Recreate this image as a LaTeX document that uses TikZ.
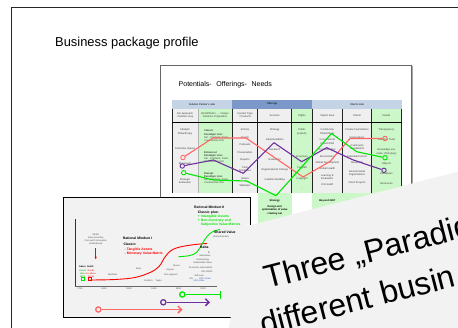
\documentclass[tikz,border=0pt]{standalone}
\usepackage{fontspec}
\setmainfont{Liberation Sans}
\usetikzlibrary{arrows.meta}
\definecolor{salmon}{HTML}{FF6666}
\definecolor{purp}{HTML}{7030A0}
\definecolor{lime}{HTML}{00E600}
\definecolor{pale}{HTML}{CCF7C8}
\definecolor{cellgray}{HTML}{EFEFEF}
\definecolor{bandlt}{HTML}{C5D3E6}
\definecolor{banddk}{HTML}{7B98C8}
\definecolor{slidegray}{HTML}{F2F2F2}
\definecolor{sdgblue}{HTML}{3366CC}
\begin{document}
\begin{tikzpicture}[x=1pt,y=-1pt,
  tiny/.style={font=\fontsize{2.6}{3.1}\selectfont, inner sep=0, align=center, text=black!75},
  tinyb/.style={font=\fontsize{2.6}{3.1}\selectfont\bfseries, inner sep=0, align=left, text=black},
  lab/.style={font=\fontsize{3.4}{4}\selectfont\bfseries, inner sep=0, anchor=west, align=left},
  tl/.style={font=\fontsize{2.3}{2.8}\selectfont, inner sep=0, text=black!70, align=center},
  pathline/.style={line width=1.1pt, line join=round},
  mk/.style={circle, draw, line width=0.9pt, minimum size=4.4pt, inner sep=0},
  bmk/.style={circle, draw, line width=1.3pt, minimum size=5.2pt, inner sep=0},
  sep/.style={black!85, line width=0.9pt}]
\useasboundingbox (0,0) rectangle (458,327);
\clip (0,0) rectangle (458,327);
\fill[white] (0,0) rectangle (458,327);
\draw[black!85, line width=1pt] (11,335) -- (11,7) -- (465,7);
\node[anchor=base west, font=\fontsize{12.9}{15}\selectfont, inner sep=0] (title) at (55,46.5) {Business package profile};

% ---------- slide 1 : table ----------
\draw[black!35, line width=1.6pt] (412.4,66) -- (412.4,250);
\draw[draw=black!60, fill=white, line width=0.8pt] (160,65) rectangle (411.3,260);
\node[anchor=base west, font=\fontsize{7}{8}\selectfont, inner sep=0] (pon) at (178.5,86) {Potentials-\hspace{4.6pt}Offerings-\hspace{4.6pt}Needs};

\fill[bandlt] (172,100) rectangle (232,108.5);
\fill[banddk] (232,100) rectangle (312,108.5);
\fill[bandlt] (312,100) rectangle (402,108.5);
\node[tiny, text=black] (b1) at (202,104.3) {Solution Partner's side};
\node[tiny, text=black] (b2) at (272,104.3) {Offerings};
\node[tiny, text=black] (b3) at (357,104.3) {Client's side};

\fill[cellgray] (172,108.5) rectangle (198,193);
\fill[pale] (198,108.5) rectangle (232,193);
\fill[cellgray] (232,108.5) rectangle (291.7,193);
\fill[pale] (291.7,108.5) rectangle (312,193);
\fill[cellgray] (312,108.5) rectangle (371.5,193);
\fill[pale] (371.5,108.5) rectangle (401.7,193);
% cells below the table
\fill[pale] (257.7,193) rectangle (291.7,240);
\fill[pale] (312,193) rectangle (410,240);

\draw[black!30, line width=0.4pt] (198,108.5) -- (198,193);
\foreach \x in {172.5,232,257.7,291.7,312,342.5,371.5,401.3}
  \draw[sep] (\x,108.5) -- (\x,193);
\draw[black, line width=1pt] (172,122.3) -- (402,122.3);

% sub headers
\node[tiny] (h1) at (185,115.5) {Our Approach\\/ Solution step};
\node[tiny] (h2) at (215,115.5) {World/Shell + ... Unique\\Solutions Proposition};
\node[tiny] (h3) at (245,115.5) {Content Type\\/ Products};
\node[tiny] (h4) at (274.7,115.8) {Services};
\node[tiny] (h5) at (302,115.8) {Rights};
\node[tiny] (h6) at (327.3,115.8) {Impact Area};
\node[tiny] (h7) at (357,115.8) {Clients};
\node[tiny] (h8) at (386.5,115.8) {Needs};

% body texts
\node[tiny] at (185,131.8) {Catalytic\\Philanthropy};
\node[tiny] at (185,149) {Collective Impact};
\node[tiny] at (185,163.3) {Movement};
\node[tiny] at (185,180.8) {Strategic\\Evaluation};

\node[tiny, anchor=west, align=left] at (204,135.7) {\textbf{Classic}\\\textbf{Paradigm Line:}\\Ser., Products, Tools,\\Construction Kits};
\node[tiny, anchor=west, align=left] at (204,157.3) {\textbf{Enhanced}\\\textbf{Paradigm Line:}\\Ser., Products, Tools,\\Construction Kits};
\node[tiny, anchor=west, align=left] at (204,178.2) {\textbf{Disrupt}\\\textbf{Paradigm Line:}\\Ser., Products, Tools,\\Construction Kits};

\node[tiny] at (245,129.7) {Articles};
\node[tiny] at (245,137.7) {Events};
\node[tiny] at (245,145) {Podcasts};
\node[tiny] at (245,152.7) {Presentation};
\node[tiny] at (245,160) {Reports};
\node[tiny] at (245,169.7) {Tools\\Templates};
\node[tiny] at (245,179) {Videos};
\node[tiny] at (245,185.7) {Webinars};

\node[tiny] at (274.7,130) {Strategy};
\node[tiny] at (274.7,140) {Implementation};
\node[tiny] at (274.7,149.7) {Research};
\node[tiny] at (274.7,159.7) {Evaluation};
\node[tiny] at (274.7,170) {Organizational Change};
\node[tiny] at (274.7,179.7) {Coalition Building};

\node[tiny] at (302,131.8) {Public\\property};
\node[tiny] at (302,156.7) {Freemium};
\node[tiny] at (302,167.7) {Copyleft};
\node[tiny] at (302,178.7) {Copyright};
\node[tiny] at (302,189.3) {...};

\node[tiny] at (327.3,131.8) {Community\\Philanthropy};
\node[tiny] at (327.3,141.8) {Conventional\\Impact/CSR};
\node[tiny] at (327.3,149.5) {Economic Dev.};
\node[tiny] at (327.3,156.7) {Environment};
\node[tiny] at (327.3,163) {Global Development};
\node[tiny] at (327.3,168.7) {Global Health};
\node[tiny] at (327.3,176.8) {Learning \&\\Evaluation};
\node[tiny] at (327.3,184.3) {US Health};

\node[tiny] at (357,130) {Private Foundations};
\node[tiny] at (357,137.7) {Corporations};
\node[tiny] at (357,146.8) {Community\\Foundations};
\node[tiny] at (357,156.7) {Individual Donors};
\node[tiny] at (357,163.3) {Nonprofits};
\node[tiny] at (357,173.5) {Governmental\\Organizations};
\node[tiny] at (357,182.7) {Client Projects};

\node[tiny] at (386.5,130) {Transparency};
\node[tiny] at (386.5,140) {Valuation Tools};
\node[tiny] at (386.5,151.8) {Knowledge use,\\make, think (buy)};
\node[tiny] at (386.5,164) {Objects};
\node[tiny] at (386.5,173.7) {Databases};
\node[tiny] at (386.5,183.7) {Resources};

% below the table
\node[tiny, text=black] at (274.7,201) {\textbf{Strategy}};
\node[tiny, text=black, font=\fontsize{2.6}{3.4}\selectfont\bfseries] at (274.7,210.2) {Design and\\optimization of value\\creating net};
\node[tiny, text=black] at (327.3,201) {\textbf{Beyond GDP}};
\node[tiny] at (349.3,200) {-};

% profile lines
\node[mk, draw=salmon] (r0) at (183,157.5) {};
\coordinate (r1) at (213,138);
\coordinate (r2) at (246,138);
\coordinate (r3) at (303,177);
\coordinate (r4) at (330,161.5);
\coordinate (r5) at (350,138.5);
\node[mk, draw=salmon] (r6) at (385,138.5) {};
\draw[pathline, salmon] (r0) -- (r1) -- (r2) -- (r3) -- (r4) -- (r5) -- (r6);

\node[mk, draw=purp] (p0) at (182.3,166) {};
\coordinate (p1) at (213.3,160);
\coordinate (p2) at (243.3,173.3);
\coordinate (p3) at (274,142.7);
\coordinate (p4) at (301.7,161.7);
\coordinate (p5) at (326.7,147.7);
\coordinate (p6) at (353.3,160);
\node[mk, draw=purp] (p7) at (384,170.3) {};
\draw[pathline, purp] (p0) -- (p1) -- (p2) -- (p3) -- (p4) -- (p5) -- (p6) -- (p7);

\node[mk, draw=lime] (g0) at (183.7,172.7) {};
\coordinate (g1) at (213.3,180);
\coordinate (g2) at (246.7,181);
\coordinate (g3) at (276,195.7);
\coordinate (g4) at (331.5,133.5);
\coordinate (g5) at (356.7,151.7);
\node[mk, draw=lime] (g6) at (385,157.7) {};
\draw[pathline, lime] (g0) -- (g1) -- (g2) -- (g3) -- (g4) -- (g5) -- (g6);

% ---------- slide 2 : timeline ----------
\draw[fill=slidegray, draw=black, line width=0.9pt] (63.3,197.3) rectangle (250.7,317.7);
\draw[black!80, line width=0.8pt] (75,219.3) -- (75,286.7);
\draw[black!60, line width=0.9pt] (75,286.7) -- (217,286.7);
\node[tl] at (80,289.2) {1750};
\node[tl] at (104,289.2) {1800};
\node[tl] at (129,289.2) {1850};
\node[tl] at (154,289.2) {1900};
\node[tl] at (178.5,289.2) {1950};
\node[tl] at (203,289.2) {2000};

\draw[red, line width=0.9pt] plot[smooth, tension=0.6] coordinates {(90,280) (115,279.5) (135,277.5) (150,272.5) (159,266.5) (165,257) (171,250.5) (180,247) (195,244.5) (207,243.5)};
\draw[lime, line width=0.9pt] plot[smooth, tension=0.6] coordinates {(178.5,256.7) (190,255.5) (197,252) (202,244) (207,236.5) (213,231.5) (220,229.5)};

\node[tl] (whilst) at (95.7,239.3) {Whilst\\Value Incentive\\Cost-worth Innovation\\(Institutional)};
\coordinate (ra0) at (95.7,248);
\coordinate (ra1) at (95.7,259.3);
\draw[red, line width=0.6pt, -{Stealth[length=2.6pt,width=2.2pt]}] (ra0) -- (ra1);

\node[tl, text=black, font=\fontsize{2.3}{2.8}\selectfont\bfseries] at (86.3,267) {Adam\hspace{1.5pt}Smith};
\node[tl, text=lime!70!black] at (82.7,273.4) {Goods\\Value\\Work};
\node[tl, text=red] at (91,273.4) {Goods\\in Labour\\Prices};
\draw[lime, line width=0.6pt] (81.2,277.2) rectangle (84.2,280);
\draw[red, line width=0.6pt] (88,277.2) rectangle (91,280);

\node[lab] at (122.7,238.3) {Rational Mindset I};
\node[lab] at (123.3,244.3) {Classic:};
\node[lab, text=red] at (124.5,249.3) {- Tangible Assets};
\node[lab, text=red] at (124.5,253.5) {- Monetary Value Matrix};

\node[lab] at (194,207.5) {Rational Mindset II};
\node[lab] at (197.7,212.3) {Classic plus:};
\node[lab, text=lime] at (197.7,216.5) {+ Intangible Assets};
\node[lab, text=lime] at (197.7,220.5) {+ Non-monetary and};
\node[lab, text=lime] at (200.7,224.5) {Subjective Value Metrics};

\node[lab] at (214,232.3) {Shared Value};
\node[tl] at (221,236.8) {(Porter/Kramer)};
\node[lab] at (200,247.7) {Baba};
\node[tl] at (209,252.5) {fb};
\node[tl] at (205,255.5) {Rebalance};
\node[tl] at (202.7,261.2) {Enterprising\\Stakeholder Value};
\node[tl] at (200.7,267.3) {Economic externalities};
\node[tl] at (207,271.5) {ISO 26000};
\node[tl] at (199,275.5) {Soft Law};
\node[tl] at (191,278.5) {UN};
\node[tl, text=sdgblue] at (205,278.5) {SDG Goals};
\node[tl, text=sdgblue] at (199,281) {SDG Index};
\node[tl] at (138.7,269) {Marx};
\node[tl] at (112.7,274.5) {Bentham};
\node[tl] at (170.3,270) {Keynes};
\node[tl] at (176.7,265.3) {Moore};
\node[tl] at (170.7,275.3) {Non-regional};
\node[tl] at (158.7,281) {Taylor};
\node[tl] at (148.3,281) {Fordism};

% bottom arrows
\node[bmk, draw=lime] (ga) at (182.3,294.5) {};
\coordinate (gb) at (220,294.5);
\draw[lime, line width=1.5pt] (ga) -- (gb);
\coordinate (gt0) at (220,291);
\coordinate (gt1) at (220,298.5);
\draw[lime, line width=0.8pt] (gt0) -- (gt1);

\node[bmk, draw=purp] (pa) at (163.3,302.3) {};
\coordinate (pb) at (210,302.3);
\draw[purp, line width=1.5pt, -{Straight Barb[length=3.5pt,width=7pt]}] (pa) -- (pb);

\node[bmk, draw=salmon] (sa) at (98.3,309.5) {};
\coordinate (sb) at (182.5,309.5);
\draw[salmon, line width=1.5pt, -{Straight Barb[length=3.5pt,width=7pt]}] (sa) -- (sb);

% ---------- slide 3 : tilted ----------
\fill[slidegray] (247,226) -- (470,168.6) -- (470,340) -- (226.7,340) -- cycle;
\node[rotate=14.5, anchor=base west, font=\fontsize{32}{36}\selectfont, inner sep=0] (t1) at (267,289) {Three „Paradig};
\node[rotate=14.5, anchor=base west, font=\fontsize{32}{36}\selectfont, inner sep=0] (t2) at (263,336) {different busin};
\end{tikzpicture}
\end{document}
